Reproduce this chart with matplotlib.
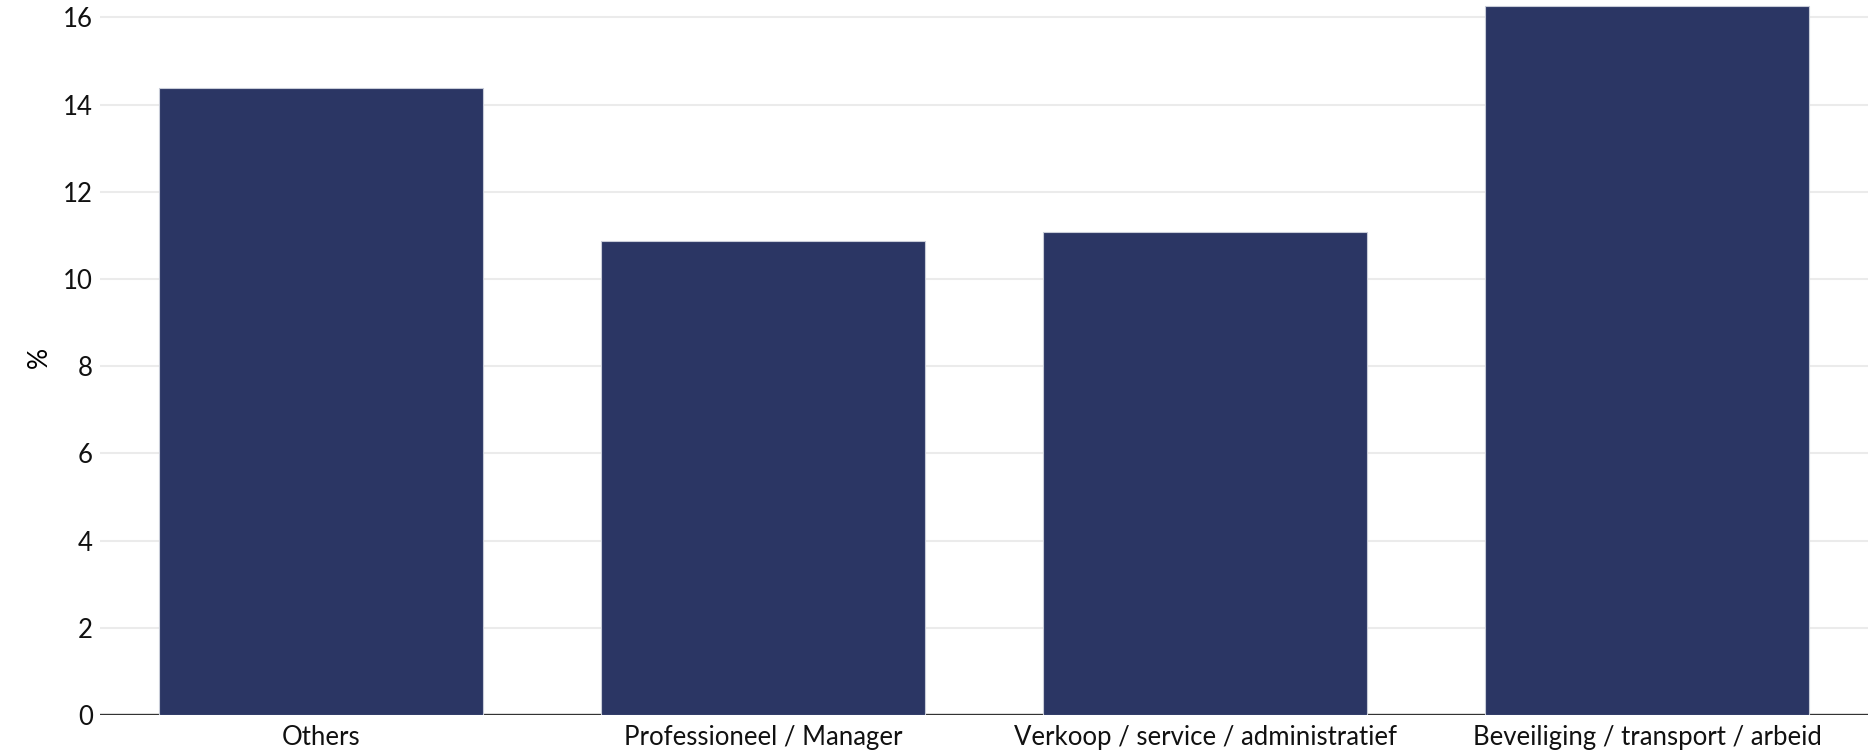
import matplotlib.pyplot as plt

# Share per occupation group (%)
categories = ["Others", "Professioneel / Manager",
              "Verkoop / service / administratief",
              "Beveiliging / transport / arbeid"]
values = [14.38, 10.87, 11.08, 16.26]
y_ticks = [0, 2, 4, 6, 8, 10, 12, 14, 16]

plt.rcParams["font.family"] = ["Lato", "DejaVu Sans"]

fig = plt.figure(figsize=(18.68, 7.52), dpi=100)
ax = fig.add_axes([100 / 1868, 37 / 752, 1768 / 1868, 715 / 752])

x = range(len(categories))
ax.bar(x, values, width=0.733, color="#2B3664", edgecolor="#c8ccd8",
       linewidth=0.8, zorder=3)

# Format plot.
ax.set_xlim(-0.5, 3.5)
ax.set_ylim(0, 16.4)
ax.set_yticks(y_ticks)
ax.set_xticks(list(x))
ax.set_xticklabels(categories)
ax.tick_params(axis="both", length=0, labelsize=18.5, colors="#111111")
ax.tick_params(axis="y", pad=5)
ax.tick_params(axis="x", pad=7)
ax.grid(axis="y", color="#ebebeb", linewidth=1.5, zorder=0)
ax.axhline(0, color="#333333", linewidth=2.4, zorder=2)
for side in ["top", "right", "left", "bottom"]:
    ax.spines[side].set_visible(False)
ax.set_ylabel("%", fontsize=19, labelpad=8)

fig.savefig("out.png", dpi=100)
